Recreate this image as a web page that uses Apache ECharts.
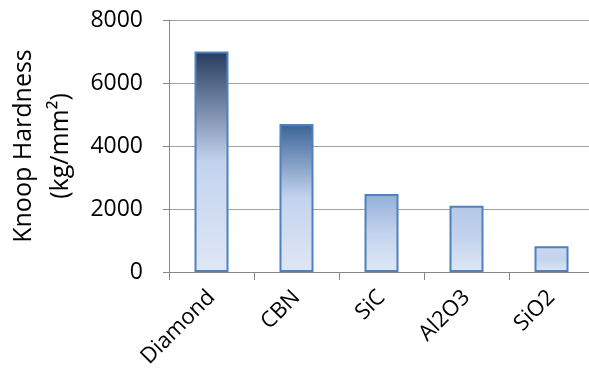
<!DOCTYPE html>
<html>
<head>
<meta charset="utf-8">
<script src="https://cdn.jsdelivr.net/npm/echarts@6/dist/echarts.min.js"></script>
<style>
  html, body { margin: 0; padding: 0; background: #fff; }
  #chart { width: 589px; height: 378px; }
</style>
</head>
<body>
<div id="chart"></div>
<script>
// Abrasive materials and their Knoop hardness (kg/mm²)
const materials = ['Diamond', 'CBN', 'SiC', 'Al2O3', 'SiO2'];
const knoopHardness = [7000, 4700, 2480, 2100, 820];
const yTicks = [0, 2000, 4000, 6000, 8000];

const FONT = '"Open Sans", sans-serif';

// Colour ramp for the top of each bar, keyed by value relative to the largest bar
const topRamp = [
  [0.00, [219, 228, 244]],
  [0.30, [180, 200, 230]],
  [0.36, [142, 171, 214]],
  [0.67, [59, 99, 150]],
  [1.00, [38, 59, 94]]
];
function rampColor(t) {
  for (let i = 1; i < topRamp.length; i++) {
    const [t1, c1] = topRamp[i];
    const [t0, c0] = topRamp[i - 1];
    if (t <= t1) {
      const f = (t - t0) / (t1 - t0);
      const c = c0.map((v, k) => Math.round(v + (c1[k] - v) * f));
      return 'rgb(' + c.join(',') + ')';
    }
  }
  const c = topRamp[topRamp.length - 1][1];
  return 'rgb(' + c.join(',') + ')';
}

const maxVal = Math.max(...knoopHardness);
const barData = knoopHardness.map(v => ({
  value: v,
  itemStyle: {
    color: new echarts.graphic.LinearGradient(0, 0, 0, 1, [
      { offset: 0, color: rampColor(v / maxVal) },
      { offset: 0.5, color: '#c3d3ee' },
      { offset: 1, color: '#dfe7f5' }
    ])
  }
}));

const chart = echarts.init(document.getElementById('chart'), null, { renderer: 'canvas' });
chart.setOption({
  animation: false,
  backgroundColor: '#ffffff',
  grid: {
    left: 169, right: -5, top: 20, bottom: 106,
    containLabel: false, outerBoundsMode: 'none'
  },
  xAxis: {
    type: 'category',
    data: materials,
    axisLine: { show: true, lineStyle: { color: '#868686', width: 1 } },
    axisTick: { show: true, length: 8, alignWithLabel: false, lineStyle: { color: '#868686' } },
    axisLabel: {
      interval: 0, rotate: 45, margin: 22,
      fontFamily: FONT, fontSize: 22, color: '#000'
    }
  },
  yAxis: {
    type: 'value',
    min: yTicks[0],
    max: yTicks[yTicks.length - 1],
    interval: yTicks[1] - yTicks[0],
    name: 'Knoop Hardness\n(kg/mm²)',
    nameLocation: 'middle',
    nameRotate: 90,
    nameGap: 89,
    nameTextStyle: { fontFamily: FONT, fontSize: 25, color: '#000', lineHeight: 37 },
    axisLine: { show: true, lineStyle: { color: '#868686', width: 1 } },
    axisTick: { show: true, length: 6, lineStyle: { color: '#868686' } },
    axisLabel: {
      margin: 26, fontFamily: FONT, fontSize: 23, color: '#000',
      formatter: v => String(v)
    },
    splitLine: { show: true, lineStyle: { color: '#a0a0a0', width: 1 } }
  },
  series: [{
    type: 'bar',
    data: barData,
    barWidth: '40%',
    itemStyle: { borderColor: '#4f81bd', borderWidth: 2 }
  }]
});
</script>
</body>
</html>
